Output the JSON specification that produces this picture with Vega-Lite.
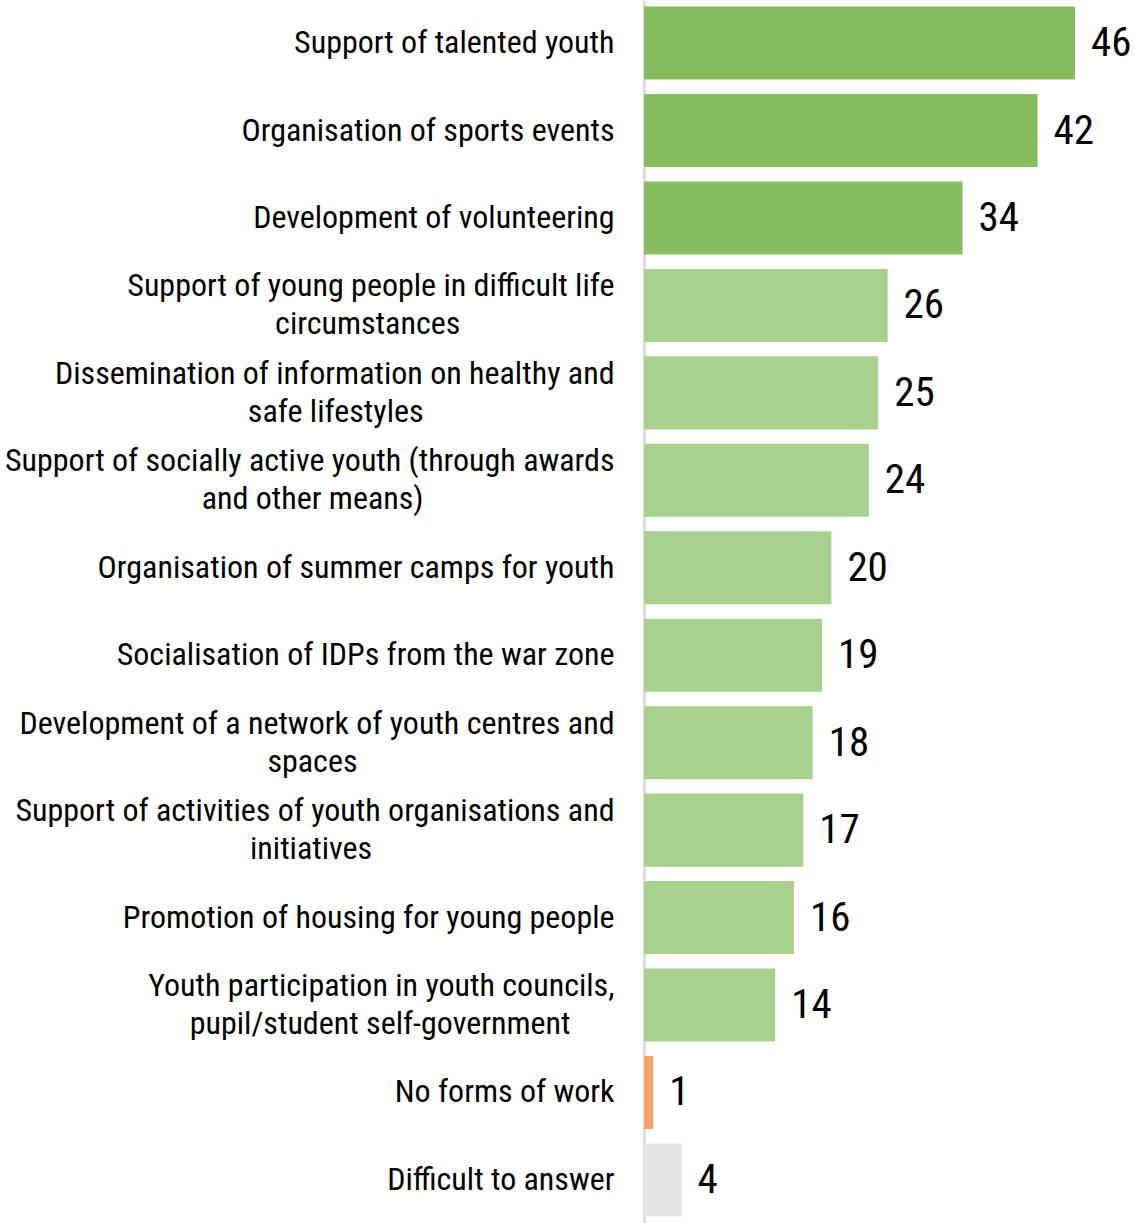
{
  "$schema": "https://vega.github.io/schema/vega-lite/v6.json",
  "autosize": "none",
  "padding": {"left": 644, "top": 0, "right": 0, "bottom": 0},
  "width": 490,
  "height": 1223,
  "background": "white",
  "config": {"view": {"stroke": null}, "font": "Roboto Condensed, Liberation Sans Narrow, Roboto"},
  "data": {"values": [
    {"label": "Support of talented youth", "value": 46, "group": "top"},
    {"label": "Organisation of sports events", "value": 42, "group": "top"},
    {"label": "Development of volunteering", "value": 34, "group": "top"},
    {"label": "Support of young people in difficult life|circumstances\u00a0\u00a0\u00a0\u00a0\u00a0\u00a0\u00a0\u00a0\u00a0\u00a0\u00a0\u00a0\u00a0\u00a0\u00a0\u00a0\u00a0\u00a0\u00a0\u00a0\u00a0\u2060", "value": 26, "group": "other"},
    {"label": "Dissemination of information on healthy and|safe lifestyles\u00a0\u00a0\u00a0\u00a0\u00a0\u00a0\u00a0\u00a0\u00a0\u00a0\u00a0\u00a0\u00a0\u00a0\u00a0\u00a0\u00a0\u00a0\u00a0\u00a0\u00a0\u00a0\u00a0\u00a0\u00a0\u00a0\u2060", "value": 25, "group": "other"},
    {"label": "Support of socially active youth (through awards|and other means)\u00a0\u00a0\u00a0\u00a0\u00a0\u00a0\u00a0\u00a0\u00a0\u00a0\u00a0\u00a0\u00a0\u00a0\u00a0\u00a0\u00a0\u00a0\u00a0\u00a0\u00a0\u00a0\u00a0\u00a0\u00a0\u00a0\u2060", "value": 24, "group": "other"},
    {"label": "Organisation of summer camps for youth", "value": 20, "group": "other"},
    {"label": "Socialisation of IDPs from the war zone", "value": 19, "group": "other"},
    {"label": "Development of a network of youth centres and|spaces\u00a0\u00a0\u00a0\u00a0\u00a0\u00a0\u00a0\u00a0\u00a0\u00a0\u00a0\u00a0\u00a0\u00a0\u00a0\u00a0\u00a0\u00a0\u00a0\u00a0\u00a0\u00a0\u00a0\u00a0\u00a0\u00a0\u00a0\u00a0\u00a0\u00a0\u00a0\u00a0\u00a0\u00a0\u00a0\u2060", "value": 18, "group": "other"},
    {"label": "Support of activities of youth organisations and|initiatives\u00a0\u00a0\u00a0\u00a0\u00a0\u00a0\u00a0\u00a0\u00a0\u00a0\u00a0\u00a0\u00a0\u00a0\u00a0\u00a0\u00a0\u00a0\u00a0\u00a0\u00a0\u00a0\u00a0\u00a0\u00a0\u00a0\u00a0\u00a0\u00a0\u00a0\u00a0\u00a0\u00a0\u2060", "value": 17, "group": "other"},
    {"label": "Promotion of housing for young people", "value": 16, "group": "other"},
    {"label": "Youth participation in youth councils,|pupil/student self-government\u00a0\u00a0\u00a0\u00a0\u00a0\u00a0\u2060", "value": 14, "group": "other"},
    {"label": "No forms of work", "value": 1, "group": "none"},
    {"label": "Difficult to answer", "value": 4, "group": "dk"}
  ]},
  "encoding": {
    "y": {
      "field": "label", "type": "nominal", "sort": null,
      "scale": {"paddingInner": 0.165, "paddingOuter": 0.075},
      "axis": {
        "title": null, "ticks": false, "labelPadding": 30, "labelLimit": 800,
        "labelFontSize": 32, "labelColor": "#000000", "labelLineHeight": 38,
        "labelExpr": "split(datum.label, '|')",
        "labelOffset": {"condition": {"test": "indexof(datum.label, '|') >= 0", "value": -19}, "value": 0},
        "domainColor": "#D9D9D9", "domainWidth": 2.5
      }
    },
    "x": {"field": "value", "type": "quantitative", "scale": {"domain": [0, 52.3]}, "axis": null}
  },
  "layer": [
    {
      "mark": {"type": "bar"},
      "encoding": {
        "color": {
          "field": "group", "type": "nominal", "legend": null,
          "scale": {"domain": ["top", "other", "none", "dk"], "range": ["#87BD5F", "#A9D18E", "#F4A46A", "#E4E4E4"]}
        }
      }
    },
    {
      "mark": {"type": "text", "align": "left", "baseline": "middle", "dx": 16, "dy": 1, "fontSize": 41, "color": "#000000"},
      "encoding": {"text": {"field": "value", "type": "quantitative"}}
    }
  ]
}
